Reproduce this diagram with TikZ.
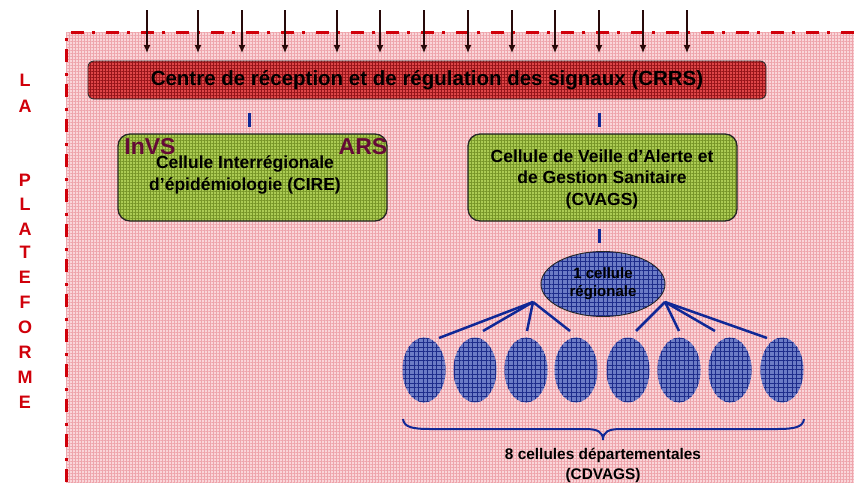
\documentclass[tikz,border=0pt]{standalone}
\usepackage{fontspec}
\setmainfont{Liberation Sans}
\usetikzlibrary{arrows.meta,shapes.geometric,patterns.meta}
\definecolor{bgpink}{RGB}{250,214,218}
\definecolor{bggrid}{RGB}{238,165,172}
\definecolor{borderred}{RGB}{208,0,10}
\definecolor{boxred}{RGB}{222,70,72}
\definecolor{boxredgrid}{RGB}{150,20,25}
\definecolor{boxgreen}{RGB}{172,204,84}
\definecolor{boxgreengrid}{RGB}{120,150,40}
\definecolor{cellblue}{RGB}{108,124,198}
\definecolor{cellgrid}{RGB}{30,45,140}
\definecolor{linkblue}{RGB}{16,40,150}
\definecolor{tagmaroon}{RGB}{100,10,55}
\definecolor{sigarrow}{RGB}{40,10,10}
\begin{document}
\begin{tikzpicture}[x=1pt,y=-1pt,
  redbox/.style={draw=black!80, line width=0.9pt, preaction={fill=boxred},
    pattern={Hatch[angle=0,distance=3pt,line width=0.35pt]}, pattern color=boxredgrid,
    rounded corners=6pt, minimum width=678pt, minimum height=38pt, inner sep=0pt,
    font=\bfseries\fontsize{20.5}{24}\selectfont},
  greenbox/.style={draw=black!85, line width=1.3pt, preaction={fill=boxgreen},
    pattern={Hatch[angle=0,distance=3pt,line width=0.35pt]}, pattern color=boxgreengrid,
    rounded corners=12pt, minimum width=269pt, minimum height=87pt, inner sep=0pt},
  celltext/.style={align=center, inner sep=0pt, font=\bfseries\fontsize{17.5}{21.5}\selectfont},
  tag/.style={inner sep=0pt, text=tagmaroon, font=\bfseries\fontsize{23}{26}\selectfont},
  sig/.style={draw=sigarrow, line width=1.3pt, -{Latex[length=8pt,width=7pt]}},
  tickmark/.style={draw=linkblue, line width=3pt},
  fan/.style={draw=linkblue, line width=2.5pt},
  bigcell/.style={ellipse, draw=black!85, line width=0.9pt, preaction={fill=cellblue},
    pattern={Hatch[angle=0,distance=4.5pt,line width=0.6pt]}, pattern color=cellgrid,
    minimum width=124pt, minimum height=65pt, inner sep=0pt, align=center,
    font=\bfseries\fontsize{15}{18}\selectfont},
  smallcell/.style={ellipse, preaction={fill=cellblue},
    pattern={Hatch[angle=0,distance=4.5pt,line width=0.6pt]}, pattern color=cellgrid,
    minimum width=43pt, minimum height=65pt, inner sep=0pt},
  sideletter/.style={inner sep=0pt, text=borderred, font=\bfseries\fontsize{18}{20}\selectfont},
  note/.style={align=center, inner sep=0pt, font=\bfseries\fontsize{15.4}{20}\selectfont}
]
\useasboundingbox (0,0) rectangle (854,482);
% platform background
\fill[bgpink] (66,32) rectangle (854,482);
\fill[pattern={Hatch[angle=0,distance=3pt,line width=0.5pt]}, pattern color=bggrid]
  (66,32) rectangle (854,482);
\draw[borderred, line width=3pt, dash pattern=on 13pt off 8pt on 3pt off 11pt]
  (66,482) -- (66,32) -- (854,32);

% side title
\foreach \l/\y [count=\i] in {L/80,A/106,P/180,L/204,A/229,T/252,E/277,F/302,O/327,R/352,M/377,E/402}
  \node[sideletter] (side\i) at (25,\y) {\l};

% CRRS
\node[redbox] (crrs) at (427,80) {Centre de réception et de régulation des signaux (CRRS)};

% incoming signals
\foreach \x [count=\i] in {147,198,242,285,337,380,424,468,512,555,599,643,687} {
  \coordinate (sigs\i) at (\x,10);
  \coordinate (sige\i) at (\x,53);
  \draw[sig] (sigs\i) -- (sige\i);
}

% CIRE
\node[greenbox] (cire) at (252.5,177.5) {};
\node[celltext] (ciretxt) at (245,175) {Cellule Interrégionale\\d’épidémiologie (CIRE)};
\node[tag] (invs) at (150,147) {InVS};
\node[tag] (ars) at (363,147) {ARS};

% CVAGS
\node[greenbox] (cvags) at (602.5,177.5) {};
\node[celltext] (cvagstxt) at (602,179) {Cellule de Veille d’Alerte et\\de Gestion Sanitaire\\(CVAGS)};

% ticks
\coordinate (t1a) at (249,113); \coordinate (t1b) at (249,127);
\coordinate (t2a) at (599,113); \coordinate (t2b) at (599,127);
\coordinate (t3a) at (599,229); \coordinate (t3b) at (599,243);
\draw[tickmark] (t1a) -- (t1b);
\draw[tickmark] (t2a) -- (t2b);
\draw[tickmark] (t3a) -- (t3b);

% regional cell
\node[bigcell] (reg) at (603,284) {1 cellule\\régionale};

% departmental cells
\foreach \x [count=\i] in {424,475,526,576,628,679,730,782}
  \node[smallcell] (dep\i) at (\x,370) {};

% fan lines
\coordinate (apexL) at (533,302);
\coordinate (apexR) at (665,302);
\coordinate (f1) at (439,338);
\coordinate (f2) at (483,331);
\coordinate (f3) at (527,331);
\coordinate (f4) at (570,331);
\coordinate (f5) at (636,331);
\coordinate (f6) at (679,331);
\coordinate (f7) at (715,331);
\coordinate (f8) at (767,338);
\foreach \i in {1,2,3,4} \draw[fan] (apexL) -- (f\i);
\foreach \i in {5,6,7,8} \draw[fan] (apexR) -- (f\i);

% brace
\coordinate (brL) at (403,419);
\coordinate (brT) at (603,440);
\coordinate (brR) at (804,419);
\draw[linkblue, line width=2pt]
  (brL) .. controls (404,427) and (412,429) .. (430,429)
  -- (585,429) .. controls (598,429) and (603,432) .. (brT)
  .. controls (603,432) and (608,429) .. (621,429)
  -- (777,429) .. controls (795,429) and (803,427) .. (brR);

\node[note] (deptxt) at (603,465) {8 cellules départementales\\(CDVAGS)};
\end{tikzpicture}
\end{document}
